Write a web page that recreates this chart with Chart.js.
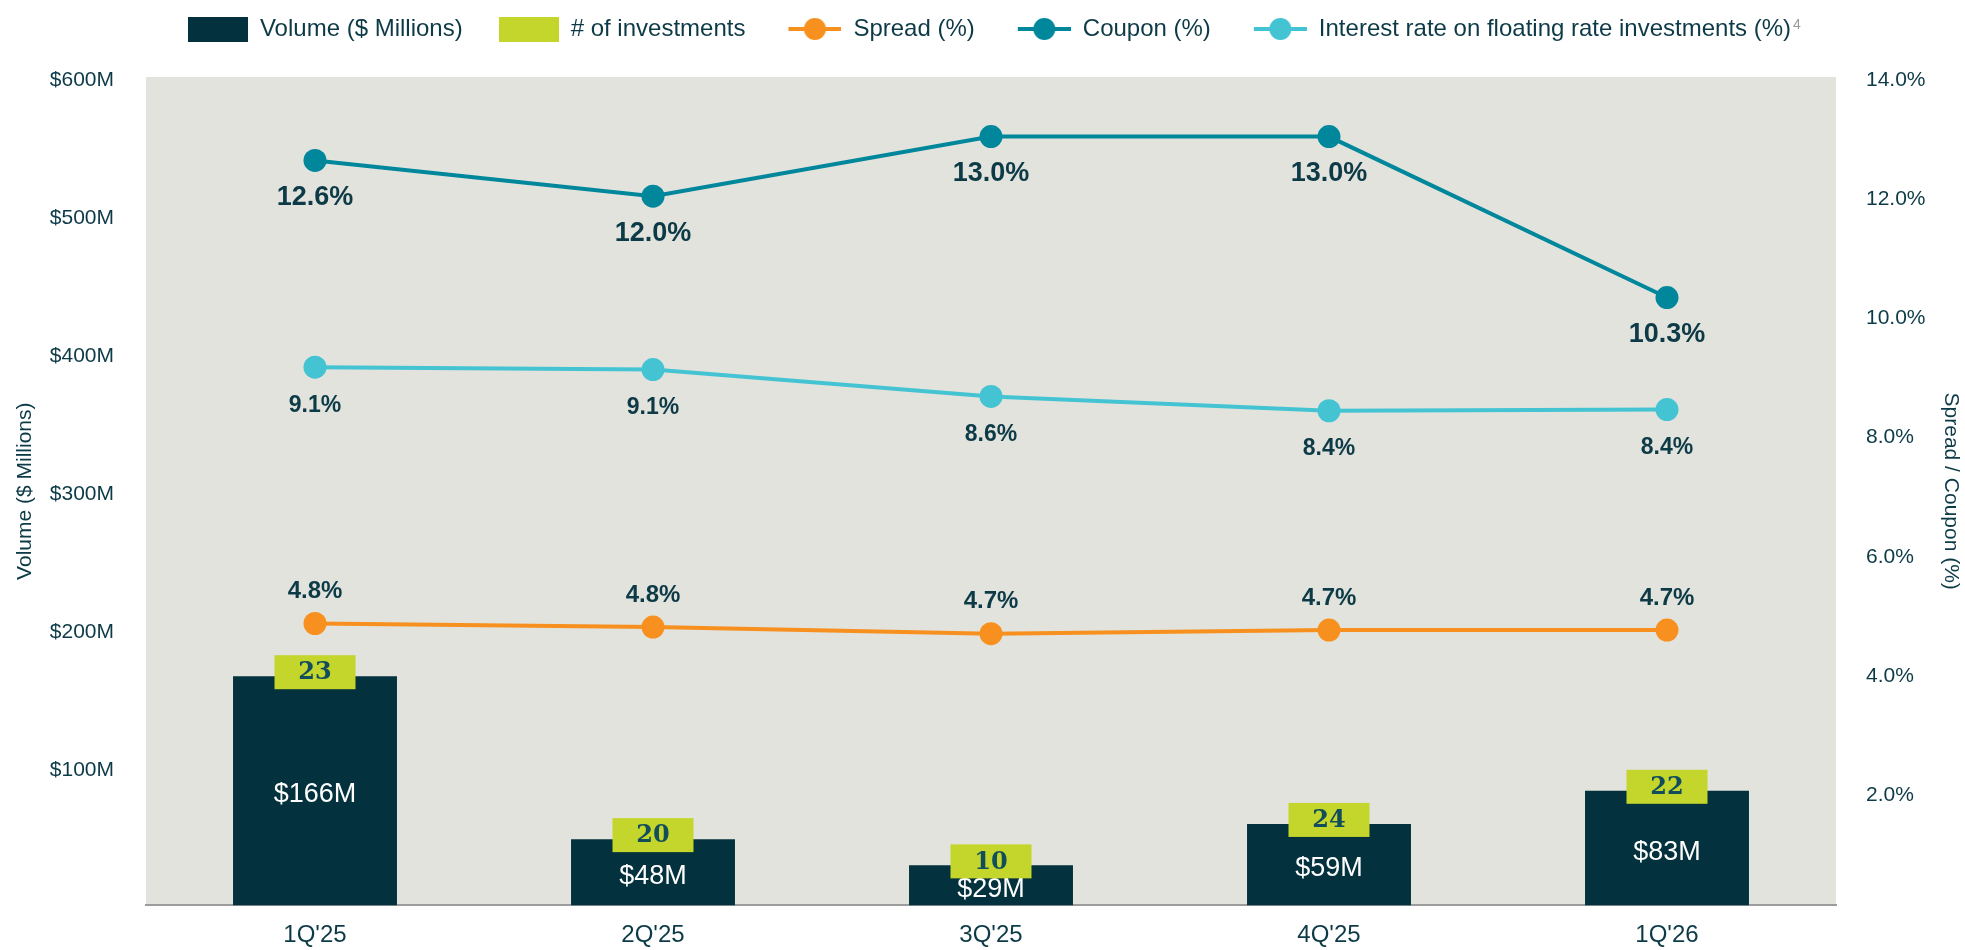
<!DOCTYPE html>
<html>
<head>
<meta charset="utf-8">
<title>Investment volume, spread and coupon</title>
<script src="https://cdn.jsdelivr.net/npm/chart.js@4.4.1/dist/chart.umd.min.js"></script>
<style>
  html, body { margin: 0; padding: 0; background: #fff; }
  #wrap { width: 1965px; height: 950px; }
</style>
</head>
<body>
<div id="wrap"><canvas id="chart"></canvas></div>
<script>
/* ---- data ---- */
const quarters     = ["1Q'25", "2Q'25", "3Q'25", "4Q'25", "1Q'26"];
const volume       = [166, 48, 29, 59, 83];          // $ millions
const investments  = [23, 20, 10, 24, 22];           // # of investments
const spread       = [4.83, 4.77, 4.66, 4.72, 4.72]; // %
const coupon       = [12.6, 12.0, 13.0, 13.0, 10.3]; // %
const floatingRate = [9.13, 9.09, 8.64, 8.40, 8.42]; // %
const volumeTicks  = [100, 200, 300, 400, 500, 600];
const pctTicks     = [2, 4, 6, 8, 10, 12, 14];

/* ---- colours ---- */
const NAVY    = '#03313d';
const LIME    = '#c4d52b';
const ORANGE  = '#f7901e';
const TEAL    = '#00879c';
const CYAN    = '#44c4d2';
const TEXT    = '#0d3a47';
const PLOT_BG = '#e2e3dc';
const FONT    = '"Liberation Sans", Arial, sans-serif';

Chart.defaults.font.family = FONT;
Chart.defaults.color = TEXT;

/* legend icons : plain box for bars, line + dot for lines */
function iconBox(color) {
  const c = document.createElement('canvas');
  c.width = 60; c.height = 25;
  const g = c.getContext('2d');
  g.fillStyle = color;
  g.fillRect(0, 0, 60, 25);
  return c;
}
function iconLine(color) {
  // 60 wide like the boxes, the line sits against the text side
  const c = document.createElement('canvas');
  c.width = 60; c.height = 24;
  const g = c.getContext('2d');
  g.strokeStyle = color; g.lineWidth = 4;
  g.beginPath(); g.moveTo(7, 12); g.lineTo(60, 12); g.stroke();
  g.fillStyle = color;
  g.beginPath(); g.arc(33.5, 12, 11, 0, Math.PI * 2); g.fill();
  return c;
}
const icons = [iconBox(NAVY), iconBox(LIME), iconLine(ORANGE), iconLine(TEAL), iconLine(CYAN)];

function lineDataset(label, data, color) {
  return {
    type: 'line', label, data,
    yAxisID: 'y1', order: 1,
    borderColor: color, backgroundColor: color,
    borderWidth: 4, tension: 0,
    pointRadius: 11.5, pointBorderWidth: 0,
    pointBackgroundColor: color,
  };
}

/* ---- labels drawn on top of the datasets ---- */
const labelsPlugin = {
  id: 'valueLabels',
  afterInit(chart) {
    // legend sits higher than chart.js puts it: fix its block height
    const legend = chart.legend;
    const fit = legend.fit;
    legend.fit = function () { fit.call(this); this.height = 96; };
  },
  beforeDraw(chart) {
    const { ctx, chartArea: a } = chart;
    ctx.save();
    ctx.fillStyle = PLOT_BG;
    ctx.fillRect(a.left, a.top, a.right - a.left, a.bottom - a.top);
    ctx.restore();
  },
  beforeDatasetDraw(chart, args) {
    if (args.index === 1) return false; // # of investments only shows as tags
  },
  afterDatasetsDraw(chart) {
    const ctx = chart.ctx;
    ctx.save();
    ctx.textAlign = 'center';
    ctx.textBaseline = 'middle';

    const counts = chart.data.datasets[1].data;
    chart.getDatasetMeta(0).data.forEach((bar, i) => {
      ctx.fillStyle = '#ffffff';
      ctx.font = '27px ' + FONT;
      ctx.fillText('$' + volume[i] + 'M', bar.x, (bar.y + bar.base) / 2 + 4);

      const cy = bar.y - 4;
      ctx.fillStyle = LIME;
      ctx.fillRect(bar.x - 40.5, cy - 17, 81, 34);
      ctx.fillStyle = '#124d5b';
      ctx.font = 'bold 24px "DejaVu Serif", serif';
      ctx.fillText(counts[i], bar.x, cy + 1);
    });

    // [dataset index, offset, font size]
    [[2, -32, 24], [3, 37, 27], [4, 38, 23]].forEach(([di, off, size]) => {
      const values = chart.data.datasets[di].data;
      ctx.fillStyle = TEXT;
      ctx.font = 'bold ' + size + 'px ' + FONT;
      chart.getDatasetMeta(di).data.forEach((pt, i) => {
        ctx.fillText(values[i].toFixed(1) + '%', pt.x, pt.y + off);
      });
    });
    ctx.restore();
  },
  afterDraw(chart) {
    // footnote mark after the last legend entry
    const box = chart.legend.legendHitBoxes[4];
    if (!box) return;
    const ctx = chart.ctx;
    ctx.save();
    ctx.fillStyle = '#9a9a9a';
    ctx.font = '14px ' + FONT;
    ctx.textAlign = 'left';
    ctx.textBaseline = 'top';
    ctx.fillText('4', box.left + box.width + 2, box.top + 1);
    ctx.restore();
  },
};

new Chart(document.getElementById('chart'), {
  data: {
    labels: quarters,
    datasets: [
      {
        type: 'bar', label: 'Volume ($ Millions)', data: volume,
        yAxisID: 'y', order: 2, grouped: false,
        backgroundColor: NAVY,
        categoryPercentage: 1, barPercentage: 0.485,
      },
      {
        type: 'bar', label: '# of investments', data: investments,
        yAxisID: 'y', order: 3, grouped: false,
        backgroundColor: LIME,
        categoryPercentage: 1, barPercentage: 0.485,
      },
      lineDataset('Spread (%)', spread, ORANGE),
      lineDataset('Coupon (%)', coupon, TEAL),
      lineDataset('Interest rate on floating rate investments (%)', floatingRate, CYAN),
    ],
  },
  options: {
    responsive: true,
    maintainAspectRatio: false,
    animation: false,
    layout: { padding: { top: -19, right: -14, left: 0, bottom: 0 } },
    plugins: {
      tooltip: { enabled: false },
      legend: {
        position: 'top',
        labels: {
          usePointStyle: true,
          pointStyleWidth: 60,
          boxHeight: 24,
          padding: 36,
          color: TEXT,
          font: { size: 24 },
          sort: (a, b) => a.datasetIndex - b.datasetIndex,
          generateLabels: chart =>
            Chart.defaults.plugins.legend.labels.generateLabels(chart)
              .map(it => ({ ...it, pointStyle: icons[it.datasetIndex] })),
        },
      },
    },
    scales: {
      x: {
        grid: { display: false, drawTicks: false },
        border: { display: true, color: '#9c9c9c', width: 2 },
        ticks: { color: TEXT, font: { size: 24 }, padding: 16 },
        afterFit: s => { s.height = 42; },
      },
      y: {
        position: 'left', min: 0, max: 600,
        grid: { display: false, drawTicks: false },
        border: { display: false },
        afterBuildTicks: s => { s.ticks = volumeTicks.map(v => ({ value: v })); },
        ticks: {
          color: TEXT, font: { size: 21 }, padding: 32, labelOffset: 3,
          callback: v => '$' + v + 'M',
        },
        title: {
          display: true, text: 'Volume ($ Millions)', color: TEXT,
          font: { size: 21 }, padding: { top: 13, bottom: 0 },
        },
        afterFit: s => { s.width = 146; },
      },
      y1: {
        position: 'right', min: 0.1, max: 14,
        grid: { display: false, drawTicks: false },
        border: { display: false },
        afterBuildTicks: s => { s.ticks = pctTicks.map(v => ({ value: v })); },
        ticks: {
          color: TEXT, font: { size: 21 }, padding: 30, labelOffset: 3,
          callback: v => v.toFixed(1) + '%',
        },
        title: {
          display: true, text: 'Spread / Coupon (%)', color: TEXT,
          font: { size: 21 }, padding: { top: 16, bottom: 0 },
        },
        afterFit: s => { s.width = 143; },
      },
    },
  },
  plugins: [labelsPlugin],
});
</script>
</body>
</html>
